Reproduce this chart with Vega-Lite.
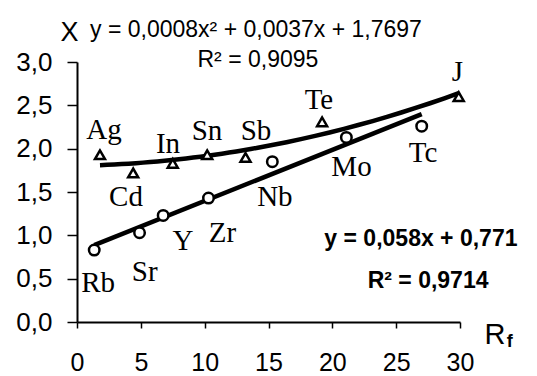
{
  "$schema": "https://vega.github.io/schema/vega-lite/v6.json",
  "width": 383,
  "height": 260,
  "autosize": {"type": "none"},
  "padding": {"left": 77, "top": 62, "right": 77, "bottom": 54},
  "background": "white",
  "config": {"view": {"stroke": null}},
  "datasets": {
    "pts": [
      {"group": "tri", "el": "Ag", "x": 1.8, "y": 1.93},
      {"group": "tri", "el": "Cd", "x": 4.4, "y": 1.72},
      {"group": "tri", "el": "In", "x": 7.5, "y": 1.83},
      {"group": "tri", "el": "Sn", "x": 10.2, "y": 1.93},
      {"group": "tri", "el": "Sb", "x": 13.2, "y": 1.9},
      {"group": "tri", "el": "Te", "x": 19.2, "y": 2.31},
      {"group": "tri", "el": "J", "x": 29.9, "y": 2.6},
      {"group": "circ", "el": "Rb", "x": 1.35, "y": 0.83},
      {"group": "circ", "el": "Sr", "x": 4.9, "y": 1.03},
      {"group": "circ", "el": "Y", "x": 6.75, "y": 1.23},
      {"group": "circ", "el": "Zr", "x": 10.3, "y": 1.43},
      {"group": "circ", "el": "Nb", "x": 15.3, "y": 1.85},
      {"group": "circ", "el": "Mo", "x": 21.1, "y": 2.13},
      {"group": "circ", "el": "Tc", "x": 27.0, "y": 2.26}
    ],
    "elLabels": [
      {"t": "Ag", "x": 2.11, "y": 2.21},
      {"t": "Cd", "x": 3.84, "y": 1.44},
      {"t": "In", "x": 7.13, "y": 2.05},
      {"t": "Sn", "x": 10.18, "y": 2.2},
      {"t": "Sb", "x": 14.02, "y": 2.2},
      {"t": "Te", "x": 18.95, "y": 2.56},
      {"t": "J", "x": 29.8, "y": 2.88},
      {"t": "Tc", "x": 27.1, "y": 1.95},
      {"t": "Mo", "x": 21.5, "y": 1.79},
      {"t": "Nb", "x": 15.5, "y": 1.44},
      {"t": "Zr", "x": 11.4, "y": 1.03},
      {"t": "Y", "x": 8.3, "y": 0.93},
      {"t": "Sr", "x": 5.3, "y": 0.58},
      {"t": "Rb", "x": 1.65, "y": 0.45}
    ],
    "eqTopLeft": [
      {"t": "y = 0,0008x² + 0,0037x + 1,7697", "x": 1.02, "y": 3.37}
    ],
    "eqTopCenter": [
      {"t": "R² = 0,9095", "x": 14.17, "y": 3.02}
    ],
    "eqBottom": [
      {"t": "y = 0,058x + 0,771", "x": 26.94, "y": 0.957},
      {"t": "R² = 0,9714", "x": 27.5, "y": 0.473}
    ],
    "axisR": [{"t": "R", "x": 32.73, "y": -0.15}],
    "axisSub": [{"t": "f", "x": 33.9, "y": -0.23}]
  },
  "encoding": {
    "x": {
      "field": "x",
      "type": "quantitative",
      "scale": {"domain": [0, 30], "nice": false},
      "axis": {
        "title": null,
        "values": [0, 5, 10, 15, 20, 25, 30],
        "grid": false,
        "labelFlush": false,
        "labelOverlap": false,
        "domainColor": "black",
        "domainWidth": 2,
        "tickColor": "black",
        "tickWidth": 1.5,
        "tickSize": 6,
        "labelFont": "Liberation Sans",
        "labelFontSize": 25,
        "labelColor": "black",
        "labelPadding": 22
      }
    },
    "y": {
      "field": "y",
      "type": "quantitative",
      "scale": {"domain": [0, 3], "nice": false},
      "axis": {
        "title": "X",
        "titleAngle": 0,
        "titleX": -8,
        "titleY": -30,
        "titleAlign": "center",
        "titleBaseline": "middle",
        "titleFont": "Liberation Sans",
        "titleFontSize": 27,
        "titleFontWeight": "normal",
        "titleColor": "black",
        "values": [0, 0.5, 1, 1.5, 2, 2.5, 3],
        "labelExpr": "replace(format(datum.value, '.1f'), '.', ',')",
        "grid": false,
        "labelFlush": false,
        "labelOverlap": false,
        "domainColor": "black",
        "domainWidth": 2,
        "tickColor": "black",
        "tickWidth": 1.5,
        "tickSize": 10,
        "labelFont": "Liberation Sans",
        "labelFontSize": 26,
        "labelColor": "black",
        "labelPadding": 15
      }
    }
  },
  "layer": [
    {
      "data": {"name": "pts"},
      "transform": [
        {"filter": "datum.group === 'tri'"},
        {"regression": "y", "on": "x", "method": "poly", "order": 2, "extent": [1.8, 29.9]}
      ],
      "mark": {"type": "line", "color": "black", "strokeWidth": 4.5}
    },
    {
      "data": {"name": "pts"},
      "transform": [
        {"filter": "datum.group === 'circ'"},
        {"regression": "y", "on": "x", "method": "linear", "extent": [1.35, 27.0]}
      ],
      "mark": {"type": "line", "color": "black", "strokeWidth": 4.5}
    },
    {
      "data": {"name": "pts"},
      "transform": [{"filter": "datum.group === 'tri'"}],
      "mark": {"type": "point", "shape": "triangle-up", "size": 100, "filled": true, "fill": "white", "stroke": "black", "strokeWidth": 2.5, "opacity": 1}
    },
    {
      "data": {"name": "pts"},
      "transform": [{"filter": "datum.group === 'circ'"}],
      "mark": {"type": "point", "shape": "circle", "size": 110, "filled": true, "fill": "white", "stroke": "black", "strokeWidth": 2.5, "opacity": 1}
    },
    {
      "data": {"name": "elLabels"},
      "mark": {"type": "text", "font": "Liberation Serif", "fontSize": 29, "color": "black", "align": "center", "baseline": "middle"},
      "encoding": {"text": {"field": "t"}}
    },
    {
      "data": {"name": "eqTopLeft"},
      "mark": {"type": "text", "font": "Liberation Sans", "fontSize": 23, "color": "black", "align": "left", "baseline": "middle"},
      "encoding": {"text": {"field": "t"}}
    },
    {
      "data": {"name": "eqTopCenter"},
      "mark": {"type": "text", "font": "Liberation Sans", "fontSize": 23, "color": "black", "align": "center", "baseline": "middle"},
      "encoding": {"text": {"field": "t"}}
    },
    {
      "data": {"name": "eqBottom"},
      "mark": {"type": "text", "font": "Liberation Sans", "fontSize": 23, "fontWeight": "bold", "color": "black", "align": "center", "baseline": "middle"},
      "encoding": {"text": {"field": "t"}}
    },
    {
      "data": {"name": "axisR"},
      "mark": {"type": "text", "font": "Liberation Sans", "fontSize": 29, "color": "black", "align": "center", "baseline": "middle"},
      "encoding": {"text": {"field": "t"}}
    },
    {
      "data": {"name": "axisSub"},
      "mark": {"type": "text", "font": "Liberation Sans", "fontSize": 18, "fontWeight": "bold", "color": "black", "align": "center", "baseline": "middle"},
      "encoding": {"text": {"field": "t"}}
    }
  ]
}
